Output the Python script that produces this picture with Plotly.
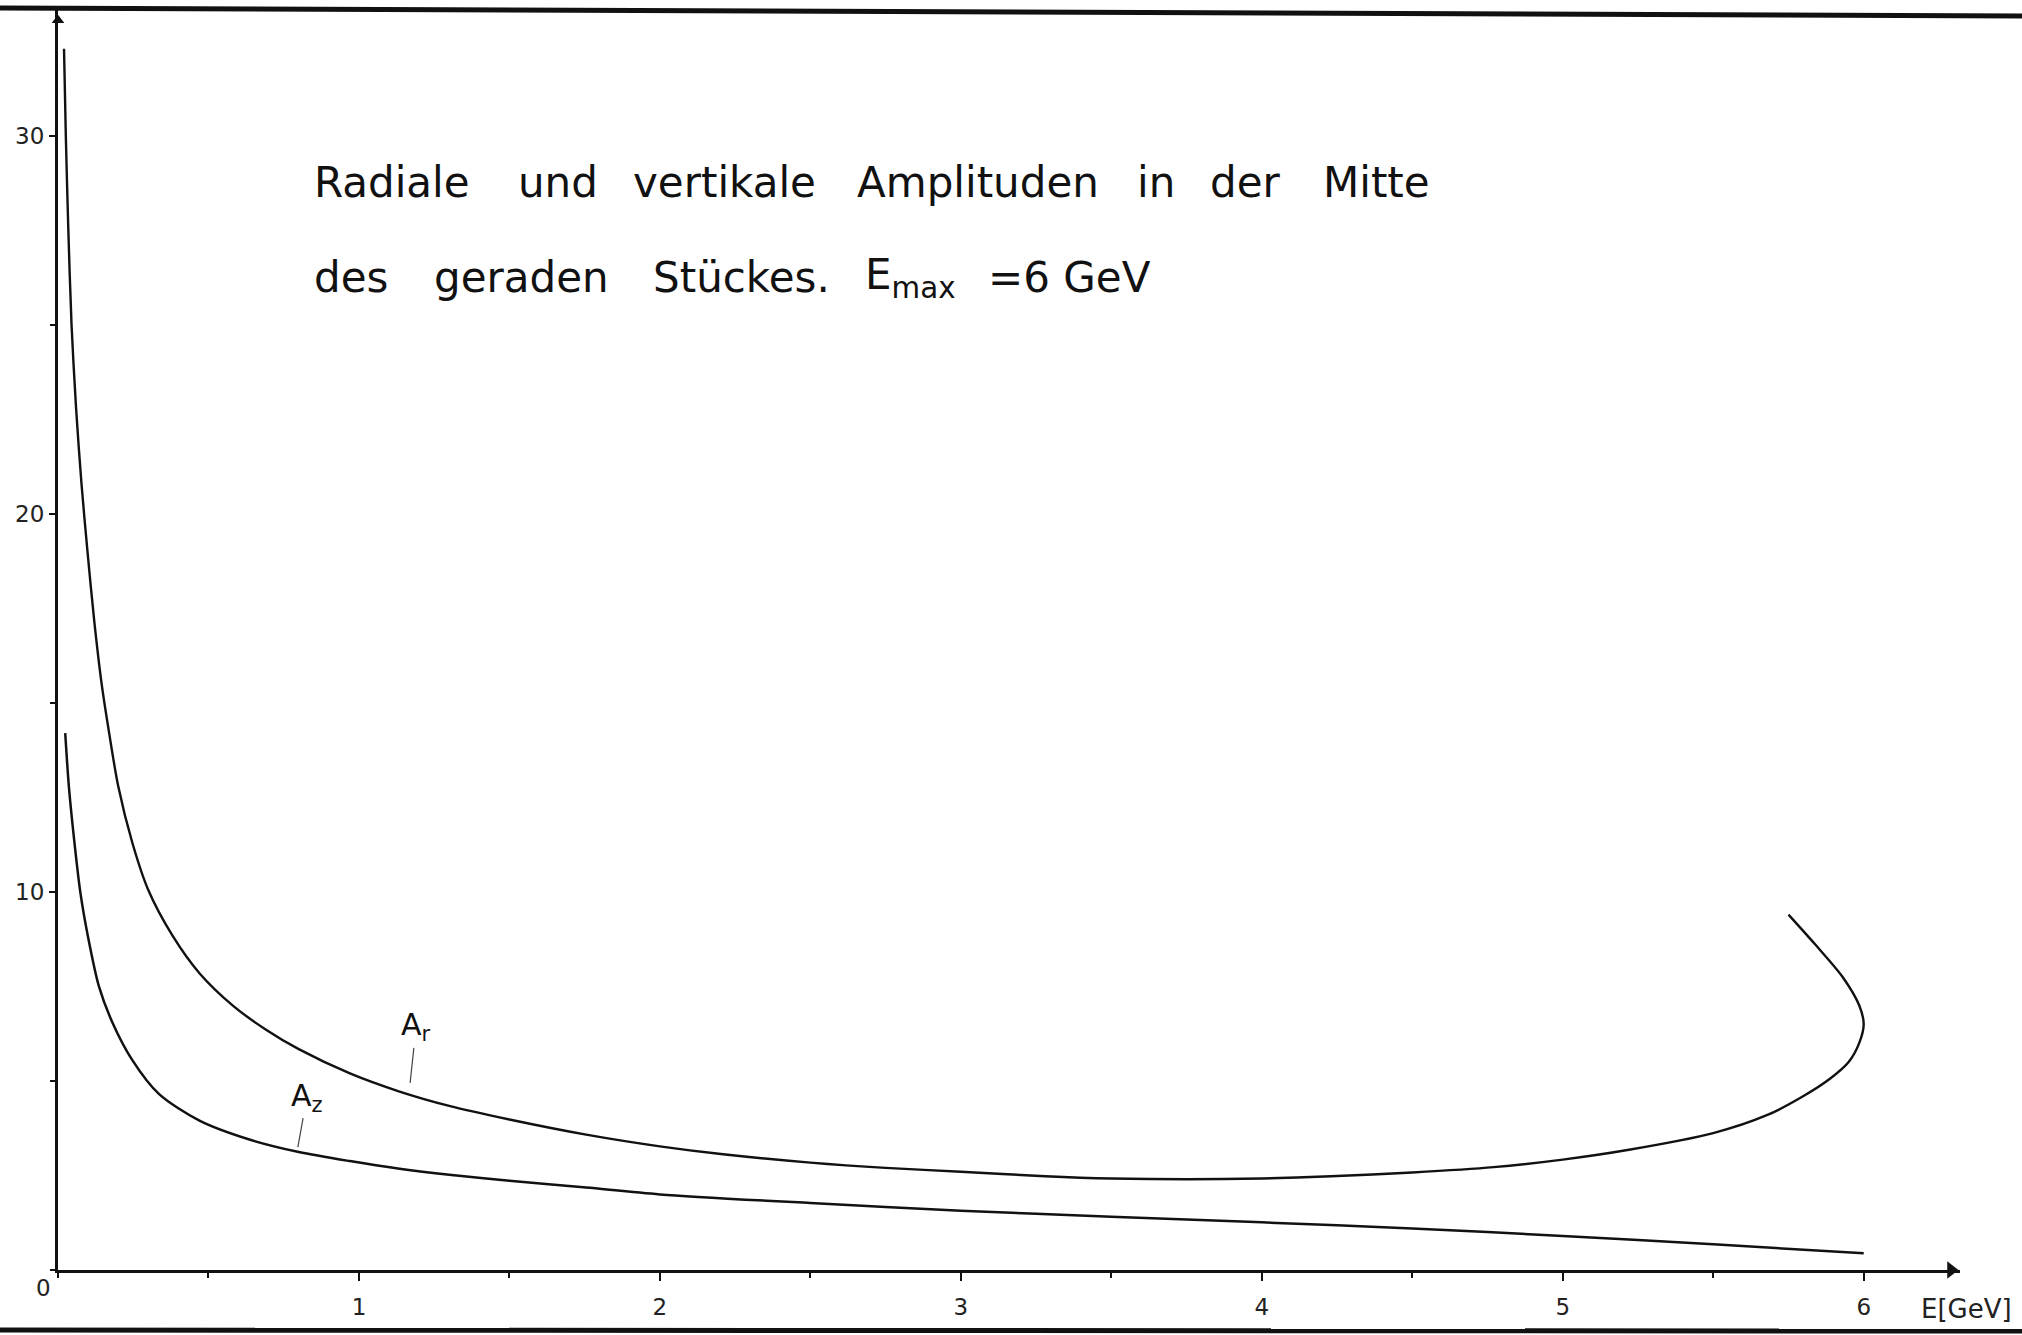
import plotly.graph_objects as go

# ---------------- data ----------------
# A_r : radial amplitude (upper curve, turns back near E = 6 GeV)
E_r = [0.020, 0.026, 0.034, 0.045, 0.060, 0.078, 0.098, 0.12, 0.145, 0.17, 0.20,
       0.247, 0.30, 0.38, 0.47, 0.58, 0.69, 0.80, 0.97, 1.135, 1.30, 1.5, 1.755,
       2.0, 2.21, 2.5, 2.75, 3.0, 3.28, 3.5, 3.75, 4.0, 4.23, 4.5, 4.77, 5.0,
       5.22, 5.5, 5.68, 5.80, 5.89, 5.95, 5.985, 6.0, 5.985, 5.93, 5.84, 5.75]
A_r = [32.3, 30.0, 27.6, 25.0, 22.8, 20.8, 19.0, 17.2, 15.5, 14.2, 12.8,
       11.3, 10.05, 8.85, 7.85, 7.0, 6.36, 5.84, 5.2, 4.72, 4.34, 3.98, 3.58,
       3.27, 3.06, 2.84, 2.70, 2.60, 2.48, 2.42, 2.40, 2.42, 2.48, 2.58, 2.72, 2.92,
       3.18, 3.62, 4.10, 4.60, 5.07, 5.50, 6.0, 6.5, 7.0, 7.75, 8.6, 9.4]

# A_z : vertical amplitude (lower curve)
E_z = [0.024, 0.036, 0.052, 0.074, 0.10, 0.136, 0.18, 0.247, 0.336, 0.47, 0.636,
       0.80, 0.97, 1.135, 1.30, 1.5, 1.755, 2.0, 2.5, 3.0, 3.5, 4.0, 4.5, 5.0,
       5.5, 6.0]
A_z = [14.2, 12.8, 11.5, 10.0, 8.8, 7.5, 6.56, 5.55, 4.65, 3.95, 3.45,
       3.12, 2.88, 2.68, 2.52, 2.36, 2.18, 2.0, 1.77, 1.57, 1.41, 1.26, 1.10, 0.90,
       0.68, 0.44]

x_ticks = [1, 2, 3, 4, 5, 6]
x_ticklabels = ["1", "2", "3", "4", "5", "6"]
y_ticks = [10, 20, 30]
y_ticklabels = ["10", "20", "30"]

title_line1 = ["Radiale", "und", "vertikale", "Amplituden", "in", "der", "Mitte"]
title_line2 = ["des", "geraden", "Stückes.", "E<sub>max</sub>", "=6 GeV"]

# ---------------- layout geometry ----------------
W, H = 2022, 1335
ML, MR, MT, MB = 58, 62, 9, 65
X_MAX, Y_MAX = 6.32, 33.35
PW = W - ML - MR
PH = H - MT - MB


def px(xp):
    return (xp - ML) / PW


def py(yp):
    return (H - MB - yp) / PH


FONT = "DejaVu Sans"
INK = "#111111"

fig = go.Figure()

fig.add_trace(go.Scatter(x=E_r, y=A_r, mode="lines",
                         line=dict(color=INK, width=2.4, shape="spline", smoothing=0.8),
                         hoverinfo="skip", showlegend=False))
fig.add_trace(go.Scatter(x=E_z, y=A_z, mode="lines",
                         line=dict(color=INK, width=2.5, shape="spline", smoothing=0.8),
                         hoverinfo="skip", showlegend=False))

# axis arrow heads
fig.add_trace(go.Scatter(x=[X_MAX - 0.03], y=[0], mode="markers",
                         marker=dict(symbol="triangle-right", size=15, color=INK),
                         cliponaxis=False, hoverinfo="skip", showlegend=False))
fig.add_trace(go.Scatter(x=[0], y=[Y_MAX - 0.3], mode="markers",
                         marker=dict(symbol="triangle-up", size=11, color=INK),
                         cliponaxis=False, hoverinfo="skip", showlegend=False))

annotations = []

# title words (positions in full-size pixels)
line1_x = [312, 516, 631, 855, 1135, 1208, 1321]
line2_x = [312, 432, 651, 863, 986]
for w, xp in zip(title_line1, line1_x):
    annotations.append(dict(xref="paper", yref="paper", x=px(xp), y=py(183),
                            xanchor="left", yanchor="middle", showarrow=False,
                            text=w, font=dict(family=FONT, size=42, color=INK)))
for w, xp in zip(title_line2, line2_x):
    annotations.append(dict(xref="paper", yref="paper", x=px(xp), y=py(277),
                            xanchor="left", yanchor="middle", showarrow=False,
                            text=w, font=dict(family=FONT, size=42, color=INK)))

# curve labels with pointer lines
annotations.append(dict(x=1.17, y=4.95, xref="x", yref="y", text="A<sub>r</sub>",
                        showarrow=True, arrowhead=0, arrowwidth=1.2, arrowcolor="#444",
                        ax=6, ay=-56, font=dict(family=FONT, size=30, color=INK)))
annotations.append(dict(x=0.797, y=3.25, xref="x", yref="y", text="A<sub>z</sub>",
                        showarrow=True, arrowhead=0, arrowwidth=1.2, arrowcolor="#444",
                        ax=9, ay=-50, font=dict(family=FONT, size=30, color=INK)))

# origin label and axis title
annotations.append(dict(xref="paper", yref="paper", x=px(43), y=py(1288),
                        xanchor="center", yanchor="middle", showarrow=False,
                        text="0", font=dict(family=FONT, size=23, color="#222")))
annotations.append(dict(xref="paper", yref="paper", x=px(1966), y=py(1309),
                        xanchor="center", yanchor="middle", showarrow=False,
                        text="E[GeV]", font=dict(family=FONT, size=26, color="#222")))

shapes = [
    dict(type="line", xref="paper", yref="paper", x0=px(-5), x1=px(W + 5),
         y0=py(8), y1=py(16), line=dict(color=INK, width=5)),
    dict(type="line", xref="paper", yref="paper", x0=px(-5), x1=px(W + 5),
         y0=py(1330), y1=py(1331), line=dict(color=INK, width=5)),
]

fig.update_layout(
    width=W, height=H, autosize=False,
    margin=dict(l=ML, r=MR, t=MT, b=MB, pad=0),
    paper_bgcolor="white", plot_bgcolor="white",
    annotations=annotations, shapes=shapes,
    showlegend=False,
    xaxis=dict(range=[0, X_MAX], showgrid=False, zeroline=False,
               showline=True, linecolor=INK, linewidth=3,
               tickvals=x_ticks, ticktext=x_ticklabels,
               ticks="outside", ticklen=8, tickwidth=2, tickcolor=INK,
               ticklabelstandoff=6,
               minor=dict(dtick=0.5, tick0=0, ticks="outside", ticklen=5,
                          tickwidth=1.5, tickcolor=INK),
               tickfont=dict(family=FONT, size=23, color="#222")),
    yaxis=dict(range=[0, Y_MAX], showgrid=False, zeroline=False,
               showline=True, linecolor=INK, linewidth=3,
               tickvals=y_ticks, ticktext=y_ticklabels,
               ticks="outside", ticklen=6, tickwidth=2, tickcolor=INK,
               minor=dict(dtick=5, tick0=0, ticks="outside", ticklen=5,
                          tickwidth=1.5, tickcolor=INK),
               tickfont=dict(family=FONT, size=23, color="#222")),
)

fig.write_html("out.html")
